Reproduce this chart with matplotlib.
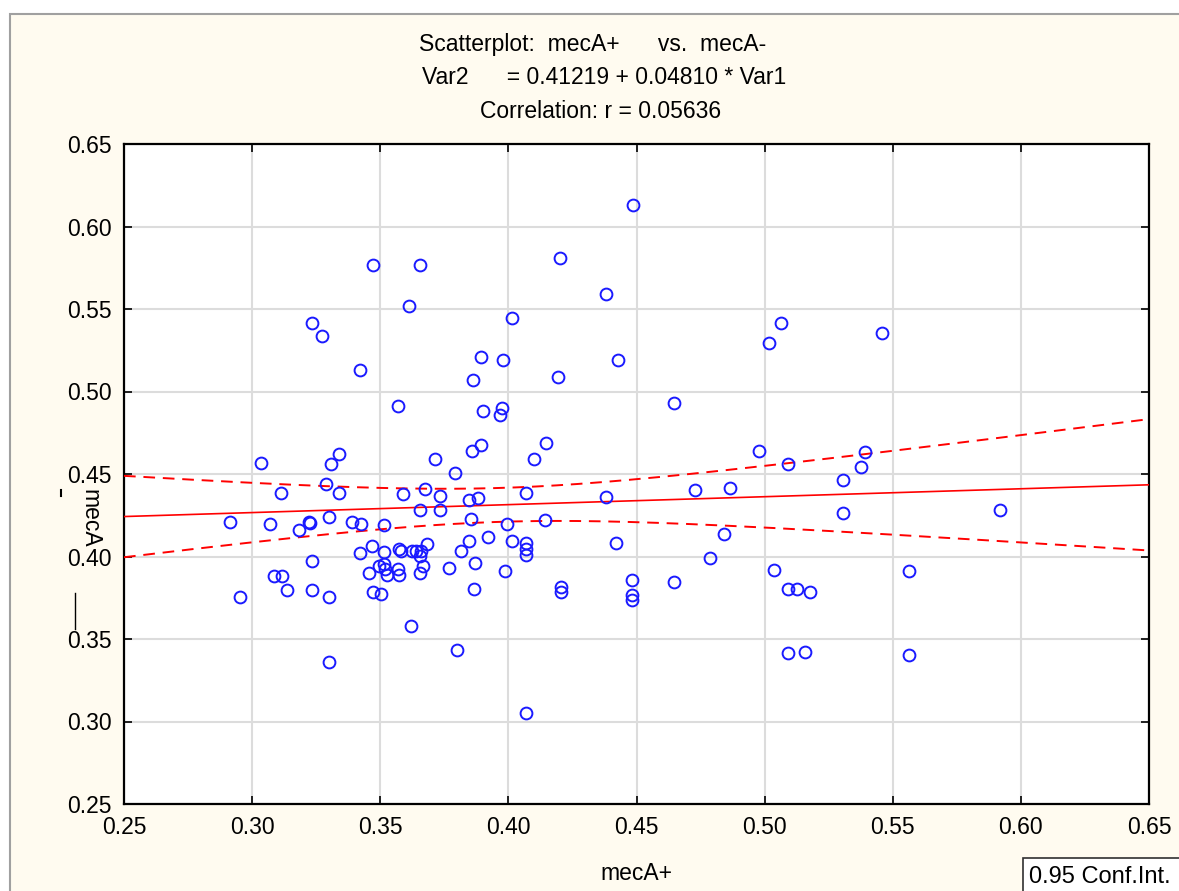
import numpy as np
import matplotlib
matplotlib.use("Agg")
import matplotlib.pyplot as plt
from matplotlib.patches import Rectangle
from matplotlib.lines import Line2D
from matplotlib.ticker import FormatStrFormatter

plt.rcParams['font.family'] = ['Liberation Sans', 'DejaVu Sans']

# ---------------------------------------------------------------------------
# data (mecA+ on x, mecA- on y)
# ---------------------------------------------------------------------------
mecA_pos = [
    0.4488, 0.4203, 0.3473, 0.3656, 0.4382, 0.3614, 0.4014, 0.3234, 0.5062, 0.3274,
    0.5458, 0.5017, 0.3895, 0.3980, 0.4429, 0.3422, 0.4194, 0.3861, 0.4648, 0.3569,
    0.3974, 0.3969, 0.3901,
    0.3034, 0.3308, 0.3340, 0.3715, 0.3859, 0.3793, 0.3113, 0.3288, 0.3340, 0.3587,
    0.3674, 0.3734, 0.3848, 0.3883, 0.3654, 0.3734, 0.2915, 0.3068, 0.3220, 0.3226,
    0.3300, 0.3390, 0.3424, 0.3513, 0.3855, 0.3182, 0.3422, 0.3468, 0.3514, 0.3573,
    0.3580, 0.3625, 0.3640, 0.3660, 0.3681, 0.3655, 0.3815, 0.3847, 0.3871, 0.3234,
    0.3085, 0.3116, 0.3135, 0.3234, 0.2954, 0.3300, 0.3456, 0.3494, 0.3513, 0.3517,
    0.3528, 0.3569, 0.3575, 0.3655, 0.3668, 0.3768, 0.3866, 0.3473, 0.3502, 0.3620,
    0.3800, 0.3301, 0.3895,
    0.4101, 0.4148, 0.4068, 0.4380, 0.4729, 0.4865, 0.3995, 0.4142, 0.3922, 0.4014,
    0.4068, 0.4068, 0.4068, 0.4421, 0.3988, 0.4788, 0.4841, 0.4207, 0.4207, 0.4482,
    0.4482, 0.4482, 0.4648, 0.4068,
    0.4978, 0.5091, 0.5391, 0.5378, 0.5305, 0.5305, 0.5918, 0.5038, 0.5564, 0.5091,
    0.5125, 0.5178, 0.5091, 0.5158, 0.5564,
]
mecA_neg = [
    0.6130, 0.5809, 0.5767, 0.5767, 0.5593, 0.5520, 0.5447, 0.5417, 0.5415, 0.5335,
    0.5355, 0.5292, 0.5211, 0.5191, 0.5191, 0.5128, 0.5086, 0.5067, 0.4932, 0.4910,
    0.4900, 0.4859, 0.4880,
    0.4568, 0.4561, 0.4621, 0.4591, 0.4641, 0.4508, 0.4387, 0.4439, 0.4385, 0.4377,
    0.4407, 0.4365, 0.4342, 0.4355, 0.4282, 0.4282, 0.4211, 0.4199, 0.4211, 0.4201,
    0.4239, 0.4211, 0.4199, 0.4189, 0.4229, 0.4159, 0.4021, 0.4064, 0.4025, 0.4045,
    0.4035, 0.4035, 0.4035, 0.4035, 0.4076, 0.4005, 0.4033, 0.4096, 0.3959, 0.3973,
    0.3880, 0.3880, 0.3795, 0.3795, 0.3755, 0.3755, 0.3900, 0.3942, 0.3955, 0.3922,
    0.3888, 0.3924, 0.3890, 0.3900, 0.3942, 0.3930, 0.3805, 0.3785, 0.3775, 0.3581,
    0.3433, 0.3362, 0.4674,
    0.4591, 0.4686, 0.4385, 0.4362, 0.4405, 0.4415, 0.4197, 0.4219, 0.4116, 0.4096,
    0.4080, 0.4047, 0.4009, 0.4084, 0.3910, 0.3993, 0.4136, 0.3817, 0.3785, 0.3858,
    0.3767, 0.3735, 0.3847, 0.3052,
    0.4641, 0.4561, 0.4632, 0.4541, 0.4465, 0.4262, 0.4280, 0.3920, 0.3910, 0.3805,
    0.3805, 0.3785, 0.3415, 0.3423, 0.3403,
]

INTERCEPT = 0.41219
SLOPE = 0.04810
R_VALUE = 0.05636
T_CRIT = 1.9794  # t(0.975, n-2) for n ~ 125

ticks = [0.25, 0.30, 0.35, 0.40, 0.45, 0.50, 0.55, 0.60, 0.65]

# ---------------------------------------------------------------------------
W, H = 1179, 891
fig = plt.figure(figsize=(W / 100, H / 100), dpi=100, facecolor="white")


def fx(px):
    return px / W


def fy(py):
    return 1 - py / H


# cream panel with grey frame (cut off at right/bottom like the screenshot)
fig.patches.append(Rectangle((fx(10), fy(905)), fx(1200) - fx(10), fy(14) - fy(905),
                             transform=fig.transFigure, facecolor="#FFFBF0",
                             edgecolor="#A0A0A0", lw=1.5, zorder=-10))

ax = fig.add_axes([fx(124), fy(804), fx(1149) - fx(124), fy(144) - fy(804)], zorder=2)
ax.set_facecolor("white")

x = np.array(mecA_pos)
y = np.array(mecA_neg)
n = len(x)

# regression line + 95% confidence band for the mean
xs = np.linspace(0.25, 0.65, 200)
fit = INTERCEPT + SLOPE * xs
resid = y - (INTERCEPT + SLOPE * x)
s = np.sqrt((resid ** 2).sum() / (n - 2))
sxx = ((x - x.mean()) ** 2).sum()
hw = T_CRIT * s * np.sqrt(1.0 / n + (xs - x.mean()) ** 2 / sxx)

ax.plot(xs, fit, color="#FF0000", lw=1.2, zorder=3)
ax.plot(xs, fit + hw, color="#FF0000", lw=1.4, ls=(0, (6, 4)), zorder=3)
ax.plot(xs, fit - hw, color="#FF0000", lw=1.4, ls=(0, (6, 4)), zorder=3)

ax.plot(x, y, ls="none", marker="o", ms=8.5, mfc="none", mec="#1A1AFF", mew=1.4, zorder=4)

ax.set_xlim(0.25, 0.65)
ax.set_ylim(0.25, 0.65)
ax.set_xticks(ticks)
ax.set_yticks(ticks)
ax.xaxis.set_major_formatter(FormatStrFormatter("%.2f"))
ax.yaxis.set_major_formatter(FormatStrFormatter("%.2f"))
ax.grid(True, color="#DCDCDC", lw=1.5, zorder=0)
ax.set_axisbelow(True)
ax.tick_params(direction="in", length=6, width=1.2, top=True, right=True,
               labelsize=16.5, colors="black", pad=9)
for sp in ax.spines.values():
    sp.set_linewidth(1.6)
    sp.set_color("black")

# titles
fig.text(fx(593), fy(45), "Scatterplot:  mecA+      vs.  mecA-", ha="center", va="center", fontsize=16.5)
fig.text(fx(604), fy(78), f"Var2      = {INTERCEPT:.5f} + {SLOPE:.5f} * Var1", ha="center", va="center", fontsize=16.5)
fig.text(fx(601), fy(111), f"Correlation: r = {R_VALUE:.5f}", ha="center", va="center", fontsize=16.5)

# axis labels (y label reproduces the broken rendering of the original)
fig.text(fx(636), fy(874), "mecA+", ha="center", va="center", fontsize=16.5)
fig.text(fx(90), fy(518), "mecA", ha="center", va="center", rotation=270, fontsize=16.5, zorder=5)
fig.lines.append(Line2D([fx(61), fx(61)], [fy(490), fy(496)], transform=fig.transFigure,
                        color="black", lw=1.5, zorder=5))
fig.lines.append(Line2D([fx(75), fx(75)], [fy(593), fy(629)], transform=fig.transFigure,
                        color="black", lw=1.0, zorder=5))

# confidence interval legend box
fig.patches.append(Rectangle((fx(1023), fy(900)), fx(1200) - fx(1023), fy(858) - fy(900),
                             transform=fig.transFigure, facecolor="white",
                             edgecolor="#303030", lw=1.2, zorder=5))
fig.text(fx(1029), fy(877), "0.95 Conf.Int.", ha="left", va="center", fontsize=17, zorder=6)

fig.savefig("out.png", dpi=100, facecolor="white")
